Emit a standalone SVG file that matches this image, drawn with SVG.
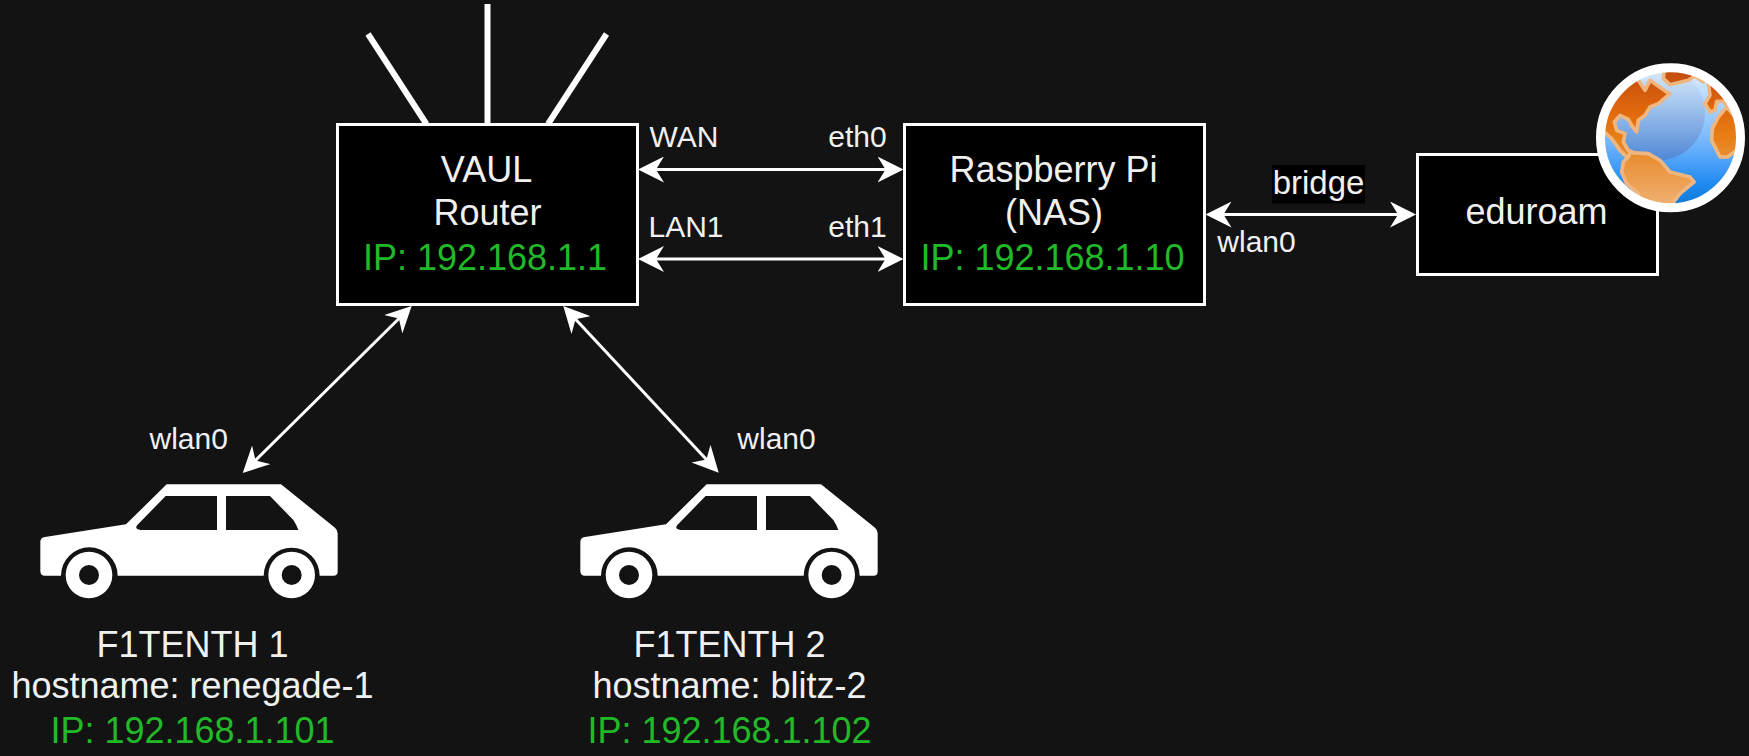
<svg xmlns="http://www.w3.org/2000/svg" width="1749" height="756" viewBox="0 0 1749 756">
<style>
text{font-family:"Liberation Sans",Arial,sans-serif;fill:#f0f0f0}
.m{font-size:36px;text-anchor:middle}
.s{font-size:30px;text-anchor:middle}
.g{fill:#21b927}
.box{fill:#000;stroke:#fff;stroke-width:3}
.ant{stroke:#fff;stroke-width:6;fill:none}
.c{stroke:#fff;stroke-width:3;fill:none;marker-start:url(#h);marker-end:url(#h)}
.land{stroke:#f0b67f;stroke-width:11;stroke-linejoin:round;fill:url(#landG)}
</style>
<defs>
<marker id="h" viewBox="0 0 26 26" refX="11" refY="13" markerWidth="26" markerHeight="26" markerUnits="userSpaceOnUse" orient="auto-start-reverse">
<path d="M0,0 L26,13 L0,26 L8,13 Z" fill="#fff"/>
</marker>
<linearGradient id="oceanG" gradientUnits="userSpaceOnUse" x1="0" y1="28" x2="0" y2="426"><stop offset="0" stop-color="#dcedff"/><stop offset=".5" stop-color="#7cbaff"/><stop offset=".85" stop-color="#1f8af0"/><stop offset="1" stop-color="#0f7ad8"/></linearGradient>
<linearGradient id="glossG" gradientUnits="userSpaceOnUse" x1="0" y1="30" x2="0" y2="295"><stop offset="0" stop-color="#d5e8fb"/><stop offset="1" stop-color="#4f88d6"/></linearGradient>
<linearGradient id="landG" gradientUnits="userSpaceOnUse" x1="0" y1="28" x2="0" y2="426"><stop offset="0" stop-color="#c44d0f"/><stop offset=".3" stop-color="#e0680c"/><stop offset=".5" stop-color="#e87f15"/><stop offset=".72" stop-color="#ea9540"/><stop offset="1" stop-color="#efb070"/></linearGradient>
<clipPath id="gc"><circle cx="227" cy="227" r="199"/></clipPath>
<g id="car">
<path fill="#fff" d="M440,73 L783,73 L945,203 Q953,210 953,220 L953,335 Q953,347 940,347 L899,347 A84,84 0 0 0 731,347 L293,347 A85,85 0 0 0 123,347 L75,347 Q61,347 61,333 L61,245 Q61,233 75,231 L318,193 Z"/>
<path fill="#131313" d="M437,108 L591,108 L591,210 L362,210 Q342,206 352,195 Z M618,108 L750,108 L820,180 Q830,195 835,210 L618,210 Z"/>
<path fill="#fff" fill-rule="evenodd" d="M137,345 a70,70 0 1 0 140,0 a70,70 0 1 0 -140,0 Z M177,345 a30,30 0 1 1 60,0 a30,30 0 1 1 -60,0 Z M745,345 a70,70 0 1 0 140,0 a70,70 0 1 0 -140,0 Z M785,345 a30,30 0 1 1 60,0 a30,30 0 1 1 -60,0 Z"/>
</g>
</defs>
<rect width="1749" height="756" fill="#131313"/>
<g id="connectors">
<line class="c" x1="653" y1="169.5" x2="888.5" y2="169.5"/>
<line class="c" x1="653" y1="259" x2="888.5" y2="259"/>
<line class="c" x1="1220.5" y1="214.5" x2="1401" y2="214.5"/>
<line class="c" x1="401" y1="316.5" x2="253.4" y2="462.5"/>
<line class="c" x1="573.5" y1="317" x2="708.5" y2="461.7"/>
</g>
<g id="router">
<line class="ant" x1="368" y1="34" x2="426.4" y2="124"/>
<line class="ant" x1="487.5" y1="4" x2="487.5" y2="124"/>
<line class="ant" x1="606.5" y1="34" x2="548" y2="124"/>
<rect class="box" x="337.5" y="124.5" width="300" height="180"/>
<text class="m" x="486.5" y="182">VAUL</text>
<text class="m" x="487.5" y="225">Router</text>
<text class="m g" x="485" y="269.5">IP: 192.168.1.1</text>
</g>
<g id="pi">
<rect class="box" x="904.5" y="124.5" width="300" height="180"/>
<text class="m" x="1053.5" y="182">Raspberry Pi</text>
<text class="m" x="1054" y="225">(NAS)</text>
<text class="m g" x="1052.5" y="270">IP: 192.168.1.10</text>
</g>
<g id="eduroam">
<rect class="box" x="1417.5" y="154.5" width="240" height="120"/>
<text class="m" x="1536.5" y="224">eduroam</text>
</g>
<g id="globe">
<g transform="translate(1595,62) scale(.33333)">
<g clip-path="url(#gc)">
<circle cx="227" cy="227" r="199" fill="url(#oceanG)"/>
<circle cx="189" cy="154" r="141" fill="url(#glossG)"/>
<path class="land" d="M190,10 L207,30 L205,50 L225,68 L280,55 L300,42 L325,60 L340,10 Z"/>
<path class="land" d="M10,10 L115,10 L130,55 L150,85 L165,55 L215,90 L225,95 L190,125 L165,135 L150,160 L130,175 L125,210 L110,190 L100,172 L75,160 L58,180 L65,205 L90,215 L85,240 L100,265 L125,275 L100,290 L75,265 L50,230 L28,210 L10,200 Z"/>
<path class="land" d="M100,285 L105,272 L160,275 L195,295 L225,330 L285,345 L297,360 L285,370 L255,395 L220,440 L135,440 L130,395 L95,365 L80,330 L85,300 Z"/>
<path class="land" d="M340,65 L345,100 L330,125 L345,150 L360,145 L365,118 L385,118 L400,135 L450,110 L400,30 Z"/>
<path class="land" d="M395,135 L370,165 L352,200 L350,235 L375,285 L398,285 L425,265 L450,200 Z"/>
</g>
</g>
<circle cx="1670.5" cy="137.7" r="70" fill="none" stroke="#fff" stroke-width="9"/>
</g>
<g id="label-wan"><text class="s" x="684" y="146.5">WAN</text></g>
<g id="label-eth0"><text class="s" x="857.5" y="146.5">eth0</text></g>
<g id="label-lan1"><text class="s" x="686" y="236.5">LAN1</text></g>
<g id="label-eth1"><text class="s" x="857.5" y="236.5">eth1</text></g>
<g id="label-bridge"><rect x="1272" y="165" width="93" height="38.5" fill="#000"/><text class="s" style="font-size:33px" x="1318.5" y="194">bridge</text></g>
<g id="label-wlan-pi"><text class="s" x="1256.5" y="251.5">wlan0</text></g>
<g id="label-wlan-1"><text class="s" x="188.7" y="449.3">wlan0</text></g>
<g id="label-wlan-2"><text class="s" x="776.5" y="449.3">wlan0</text></g>
<g id="car1">
<use href="#car" transform="translate(20,460) scale(.33333)"/>
<text class="m" x="192.5" y="656.7">F1TENTH 1</text>
<text class="m" x="192.5" y="698">hostname: renegade-1</text>
<text class="m g" x="192.5" y="743.3">IP: 192.168.1.101</text>
</g>
<g id="car2">
<use href="#car" transform="translate(560,460) scale(.33333)"/>
<text class="m" x="729.5" y="656.7">F1TENTH 2</text>
<text class="m" x="729.5" y="698">hostname: blitz-2</text>
<text class="m g" x="729.5" y="743.3">IP: 192.168.1.102</text>
</g>
</svg>
